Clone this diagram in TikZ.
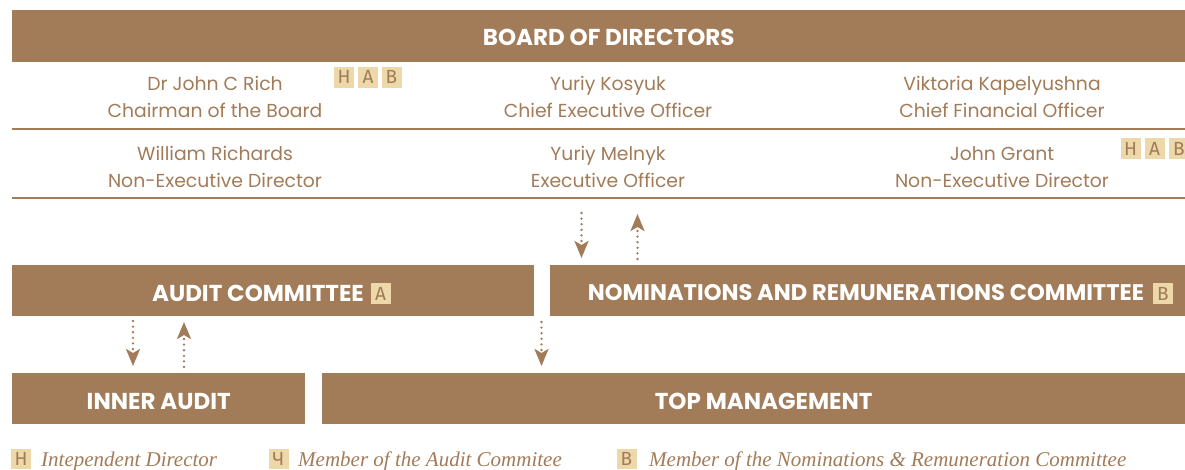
\documentclass[tikz,border=0pt]{standalone}
\usepackage{fontspec}
\setmainfont{Poppins}
\newfontfamily\legfont{Liberation Serif}
\newfontfamily\bdgfont{Fira Sans}
\usetikzlibrary{arrows.meta}
\definecolor{brn}{HTML}{A27B58}
\definecolor{bfill}{HTML}{EDD8AA}
\begin{document}
\begin{tikzpicture}[x=1pt,y=-1pt,
  bar/.style={fill=brn, text=white, inner sep=0, anchor=north west, font=\fontsize{23}{23}\selectfont\bfseries},
  htext/.style={text=white, inner sep=0, font=\fontsize{23}{23}\selectfont\bfseries},
  person/.style={text=brn, align=center, inner sep=0, font=\fontsize{18.8}{27}\selectfont},
  bdg/.style={fill=bfill, text=brn, minimum width=20pt, minimum height=21pt, inner sep=0, font=\bdgfont\fontsize{19}{19}\selectfont},
  rule/.style={draw=brn, line width=2pt},
  flow/.style={draw=brn, line width=2.6pt, dash pattern=on 0pt off 5.6pt, line cap=round, -{Stealth[length=17pt,width=14pt,inset=4pt]}},
  leg/.style={text=brn, inner sep=0, anchor=base west, font=\legfont\itshape\fontsize{21}{21}\selectfont}]
\clip (0,0) rectangle (1185,469);
% board
\node[bar, minimum width=1193pt, minimum height=52pt, text height=19pt, text depth=0pt] (board) at (12,10) {BOARD OF DIRECTORS};
\node[person] (p1) at (215,96.5) {Dr John C Rich\\Chairman of the Board};
\node[person] (p2) at (608,96.5) {Yuriy Kosyuk\\Chief Executive Officer};
\node[person] (p3) at (1002,96.5) {Viktoria Kapelyushna\\Chief Financial Officer};
\node[bdg] (b1h) at (344,77) {H};
\node[bdg] (b1a) at (368,77) {A};
\node[bdg] (b1b) at (391.5,77) {B};
\coordinate (r1l) at (12,128.5);
\coordinate (r1r) at (1185,128.5);
\draw[rule] (r1l) -- (r1r);
\node[person] (p4) at (215,167) {William Richards\\Non-Executive Director};
\node[person] (p5) at (608,167) {Yuriy Melnyk\\Executive Officer};
\node[person] (p6) at (1002,167) {John Grant\\Non-Executive Director};
\node[bdg] (b2h) at (1130.5,148.5) {H};
\node[bdg] (b2a) at (1154.5,148.5) {A};
\node[bdg] (b2b) at (1179,148.5) {B};
\coordinate (r2l) at (12,197.5);
\coordinate (r2r) at (1185,197.5);
\draw[rule] (r2l) -- (r2r);
% committees
\node[bar, minimum width=522pt, minimum height=51pt] (audit) at (12,265) {};
\node[htext] (auditT) at (258,293) {AUDIT COMMITTEE};
\node[bdg] (auditB) at (380.5,293.5) {A};
\node[bar, minimum width=660pt, minimum height=51pt] (nom) at (550,265) {};
\node[htext, font=\fontsize{22.6}{23}\selectfont\bfseries] (nomT) at (866,293) {NOMINATIONS AND REMUNERATIONS COMMITTEE};
\node[bdg] (nomB) at (1163,293.5) {B};
% lower
\node[bar, minimum width=293pt, minimum height=51pt, text height=21pt, text depth=0pt] (inner) at (12,373) {INNER AUDIT};
\node[bar, minimum width=883pt, minimum height=51pt, text height=21pt, text depth=0pt] (top) at (322,373) {TOP MANAGEMENT};
% arrows
\coordinate (a1s) at (581.5,213);
\coordinate (a1e) at (581.5,258);
\coordinate (a2s) at (637.5,259);
\coordinate (a2e) at (637.5,214);
\coordinate (a3s) at (133,321);
\coordinate (a3e) at (133,366);
\coordinate (a4s) at (184,367);
\coordinate (a4e) at (184,322);
\coordinate (a5s) at (541.5,322);
\coordinate (a5e) at (541.5,366);
\draw[flow] (a1s) -- (a1e);
\draw[flow] (a2s) -- (a2e);
\draw[flow] (a3s) -- (a3e);
\draw[flow] (a4s) -- (a4e);
\draw[flow] (a5s) -- (a5e);
% legend
\node[bdg, minimum height=20pt] (l1b) at (21,459) {Н};
\node[leg] (l1t) at (41,466) {Intependent Director};
\node[bdg, minimum height=20pt] (l2b) at (278.5,459) {Ч};
\node[leg] (l2t) at (298,466) {Member of the Audit Commitee};
\node[bdg, minimum height=20pt] (l3b) at (626.5,459) {В};
\node[leg] (l3t) at (649,466) {Member of the Nominations \& Remuneration Committee};
\end{tikzpicture}
\end{document}
